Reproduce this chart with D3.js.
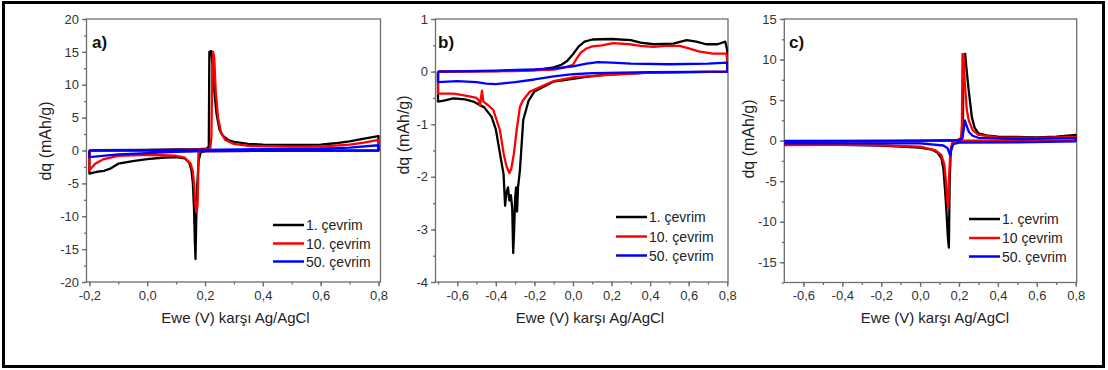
<!DOCTYPE html>
<html>
<head>
<meta charset="utf-8">
<script src="https://cdn.jsdelivr.net/npm/d3@7"></script>
<style>
  body { margin: 0; background: #fff; }
  text { font-family: "Liberation Sans", Arial, sans-serif; }
  .axis path, .axis line { stroke: #6e6e6e; stroke-width: 1.3; }
  .axis text { fill: #333; font-size: 13px; }
</style>
</head>
<body>
<svg id="chart" width="1108" height="370"></svg>
<script>
// ---- data (x = Ewe in V, y = dq in mAh/g) ----
const aCycle1 = [[-0.2,0.05],[0.0,0.1],[0.1,0.15],[0.18,0.2],[0.205,0.3],[0.213,0.6],[0.215,15],[0.222,15.1],[0.224,14],[0.23,10],[0.24,5.5],[0.25,3.2],[0.26,2.3],[0.28,1.6],[0.3,1.3],[0.35,1.0],[0.4,0.9],[0.5,0.85],[0.6,0.9],[0.65,1.1],[0.7,1.4],[0.75,1.8],[0.8,2.2],[0.8,0.0],[0.6,-0.05],[0.4,-0.05],[0.2,-0.1],[0.185,-0.3],[0.178,-1.5],[0.172,-6],[0.169,-12],[0.167,-16.5],[0.165,-14],[0.162,-9],[0.158,-5],[0.153,-3],[0.145,-1.8],[0.13,-1.2],[0.1,-1.0],[0.05,-1.1],[0.0,-1.3],[-0.05,-1.6],[-0.1,-2.0],[-0.13,-2.8],[-0.15,-3.1],[-0.17,-3.2],[-0.19,-3.4],[-0.2,-3.5],[-0.2,0.05]];
const aCycle10 = [[-0.2,0.0],[0.1,0.1],[0.2,0.15],[0.218,0.3],[0.222,2],[0.225,12],[0.228,15],[0.232,14],[0.237,9],[0.245,5],[0.255,2.8],[0.27,1.6],[0.3,1.0],[0.35,0.7],[0.5,0.6],[0.6,0.6],[0.7,0.9],[0.75,1.2],[0.8,1.6],[0.8,0.0],[0.5,-0.05],[0.2,-0.1],[0.18,-0.2],[0.177,-0.5],[0.176,-5],[0.174,-8.5],[0.17,-9.4],[0.166,-8],[0.162,-5],[0.157,-3],[0.15,-2],[0.13,-1.1],[0.1,-0.8],[0.0,-0.65],[-0.1,-0.8],[-0.15,-1.3],[-0.18,-2.0],[-0.2,-3.0],[-0.2,0.0]];
const aCycle50 = [[-0.2,0.0],[0.2,0.1],[0.4,0.2],[0.6,0.3],[0.7,0.45],[0.8,0.8],[0.8,0.0],[0.6,-0.02],[0.4,-0.05],[0.2,-0.1],[0.1,-0.2],[0.0,-0.4],[-0.1,-0.6],[-0.2,-1.0],[-0.2,0.0]];

const bCycle1 = [[-0.7,0.0],[-0.4,0.01],[-0.2,0.03],[-0.15,0.05],[-0.1,0.08],[-0.06,0.13],[-0.03,0.2],[0.0,0.33],[0.03,0.48],[0.06,0.57],[0.1,0.61],[0.2,0.62],[0.3,0.6],[0.35,0.55],[0.42,0.52],[0.52,0.53],[0.59,0.6],[0.64,0.57],[0.69,0.52],[0.75,0.52],[0.79,0.57],[0.8,0.4],[0.8,0.0],[0.4,-0.02],[0.2,-0.05],[0.07,-0.1],[-0.1,-0.19],[-0.2,-0.38],[-0.23,-0.55],[-0.258,-0.92],[-0.275,-1.87],[-0.285,-2.2],[-0.29,-2.66],[-0.295,-2.2],[-0.3,-2.4],[-0.305,-3.0],[-0.31,-3.45],[-0.315,-2.6],[-0.322,-2.35],[-0.33,-2.45],[-0.337,-2.2],[-0.345,-2.3],[-0.352,-2.55],[-0.36,-1.95],[-0.379,-1.55],[-0.4,-1.1],[-0.422,-0.86],[-0.46,-0.68],[-0.517,-0.57],[-0.56,-0.53],[-0.62,-0.51],[-0.67,-0.55],[-0.7,-0.57],[-0.7,0.0]];
const bCycle10 = [[-0.7,0.0],[-0.3,0.01],[-0.1,0.04],[-0.05,0.07],[0.0,0.13],[0.02,0.25],[0.04,0.36],[0.07,0.44],[0.1,0.48],[0.15,0.5],[0.208,0.54],[0.295,0.52],[0.35,0.49],[0.416,0.47],[0.48,0.49],[0.554,0.49],[0.6,0.44],[0.658,0.38],[0.727,0.34],[0.796,0.34],[0.8,0.2],[0.8,0.0],[0.4,-0.02],[0.1,-0.08],[0.0,-0.11],[-0.1,-0.18],[-0.223,-0.38],[-0.26,-0.55],[-0.275,-0.67],[-0.292,-1.11],[-0.306,-1.55],[-0.32,-1.85],[-0.33,-1.93],[-0.345,-1.8],[-0.36,-1.55],[-0.379,-1.11],[-0.413,-0.73],[-0.44,-0.64],[-0.465,-0.57],[-0.472,-0.36],[-0.477,-0.5],[-0.482,-0.65],[-0.488,-0.55],[-0.5,-0.5],[-0.55,-0.46],[-0.62,-0.42],[-0.7,-0.42],[-0.7,0.0]];
const bCycle50 = [[-0.7,0.0],[-0.4,0.02],[-0.2,0.04],[-0.1,0.06],[0.0,0.1],[0.07,0.15],[0.13,0.18],[0.2,0.17],[0.3,0.15],[0.5,0.14],[0.7,0.15],[0.8,0.17],[0.8,0.0],[0.4,-0.01],[0.1,-0.03],[0.0,-0.05],[-0.1,-0.09],[-0.2,-0.15],[-0.3,-0.2],[-0.4,-0.24],[-0.45,-0.23],[-0.5,-0.2],[-0.6,-0.18],[-0.7,-0.2],[-0.7,0.0]];

const cCycle1 = [[-0.7,-0.15],[-0.3,-0.1],[0.0,-0.05],[0.15,0.0],[0.2,0.1],[0.215,0.3],[0.22,1.5],[0.223,10.5],[0.232,10.7],[0.238,9],[0.248,6.6],[0.266,2.9],[0.28,1.6],[0.3,0.9],[0.35,0.6],[0.4,0.5],[0.6,0.4],[0.7,0.5],[0.8,0.7],[0.8,0.0],[0.5,-0.02],[0.2,-0.05],[0.17,-0.2],[0.158,-1],[0.152,-5],[0.148,-13.2],[0.143,-12],[0.135,-8.5],[0.128,-6],[0.12,-3.5],[0.11,-2.2],[0.09,-1.5],[0.06,-1.1],[0.0,-0.85],[-0.2,-0.6],[-0.5,-0.5],[-0.7,-0.5],[-0.7,-0.15]];
const cCycle10 = [[-0.7,-0.1],[0.0,-0.05],[0.19,0.05],[0.21,0.3],[0.215,2],[0.218,10.7],[0.224,10.5],[0.23,7],[0.24,3.8],[0.25,2.5],[0.27,1.3],[0.3,0.7],[0.4,0.4],[0.6,0.35],[0.8,0.45],[0.8,0.0],[0.5,-0.02],[0.2,-0.05],[0.165,-0.3],[0.155,-1.5],[0.15,-4],[0.145,-8.4],[0.14,-7.5],[0.133,-5],[0.125,-3],[0.11,-1.8],[0.08,-1.2],[0.0,-0.75],[-0.3,-0.5],[-0.7,-0.55],[-0.7,-0.1]];
const cCycle50 = [[-0.7,-0.05],[0.0,0.0],[0.2,0.05],[0.218,0.3],[0.225,1.5],[0.23,2.5],[0.24,1.8],[0.25,1.1],[0.27,0.6],[0.3,0.35],[0.5,0.2],[0.8,0.3],[0.8,-0.1],[0.5,-0.2],[0.2,-0.25],[0.17,-0.45],[0.16,-1.2],[0.155,-1.85],[0.15,-1.5],[0.14,-0.9],[0.12,-0.6],[0.0,-0.35],[-0.7,-0.35],[-0.7,-0.05]];

const aXTicks = [-0.2, 0, 0.2, 0.4, 0.6, 0.8];
const aYTicks = [-20, -15, -10, -5, 0, 5, 10, 15, 20];
const bXTicks = [-0.6, -0.4, -0.2, 0, 0.2, 0.4, 0.6, 0.8];
const bYTicks = [-4, -3, -2, -1, 0, 1];
const cXTicks = [-0.6, -0.4, -0.2, 0, 0.2, 0.4, 0.6, 0.8];
const cYTicks = [-15, -10, -5, 0, 5, 10, 15];

const legendAB = ["1. çevrim", "10. çevrim", "50. çevrim"];
const legendC = ["1. çevrim", "10 çevrim", "50. çevrim"];
const seriesColors = ["#000000", "#ff0000", "#0000ff"];

const xTitle = "Ewe (V) karşı Ag/AgCl";
const yTitle = "dq (mAh/g)";

const svg = d3.select("#chart");

// outer frame
svg.append("rect")
  .attr("x", 3.5).attr("y", 2.5)
  .attr("width", 1100).attr("height", 364)
  .attr("fill", "#fff")
  .attr("stroke", "#000").attr("stroke-width", 3);

let fmtX = v => d3.format(".1f")(v).replace(".", ",").replace("\u2212", "-");
let fmtY = v => String(v);

let drawPanel = (p) => {
  let x = d3.scaleLinear().domain(p.xDomain).range([p.left, p.right]);
  let y = d3.scaleLinear().domain(p.yDomain).range([p.bottom, p.top]);

  let g = svg.append("g");

  g.append("clipPath").attr("id", "clip-" + p.id)
    .append("rect")
    .attr("x", p.left).attr("y", p.top)
    .attr("width", p.right - p.left).attr("height", p.bottom - p.top);

  // minor ticks
  g.append("g").attr("class", "axis")
    .attr("transform", "translate(0," + p.bottom + ")")
    .call(d3.axisBottom(x).tickValues(p.xMinor).tickSize(2.5).tickSizeOuter(0).tickFormat(""))
    .select(".domain").remove();
  g.append("g").attr("class", "axis")
    .attr("transform", "translate(" + p.left + ",0)")
    .call(d3.axisLeft(y).tickValues(p.yMinor).tickSize(2.5).tickSizeOuter(0).tickFormat(""))
    .select(".domain").remove();

  // major ticks
  let xa = g.append("g").attr("class", "axis")
    .attr("transform", "translate(0," + p.bottom + ")")
    .call(d3.axisBottom(x).tickValues(p.xTicks).tickSize(4.5).tickSizeOuter(0).tickPadding(4).tickFormat(fmtX));
  xa.select(".domain").remove();
  let ya = g.append("g").attr("class", "axis")
    .attr("transform", "translate(" + p.left + ",0)")
    .call(d3.axisLeft(y).tickValues(p.yTicks).tickSize(4.5).tickSizeOuter(0).tickPadding(3).tickFormat(fmtY));
  ya.select(".domain").remove();

  // plot frame
  g.append("rect")
    .attr("x", p.left).attr("y", p.top)
    .attr("width", p.right - p.left).attr("height", p.bottom - p.top)
    .attr("fill", "none").attr("stroke", "#6e6e6e").attr("stroke-width", 1.3);

  let line = d3.line().x(d => x(d[0])).y(d => y(d[1]));

  g.append("g").attr("clip-path", "url(#clip-" + p.id + ")")
    .selectAll("path")
    .data(p.series)
    .enter().append("path")
    .attr("d", d => line(d))
    .attr("fill", "none")
    .attr("stroke", (d, i) => seriesColors[i])
    .attr("stroke-width", 2.3)
    .attr("stroke-linejoin", "round");

  // panel letter
  g.append("text")
    .attr("x", p.letterX).attr("y", 48)
    .attr("font-size", "17px").attr("font-weight", "bold")
    .attr("fill", "#111")
    .text(p.letter);

  // legend
  let lg = g.append("g");
  p.legend.forEach((name, i) => {
    let ly = p.legendY[i];
    lg.append("line")
      .attr("x1", p.legendX).attr("x2", p.legendX + 31)
      .attr("y1", ly).attr("y2", ly)
      .attr("stroke", seriesColors[i]).attr("stroke-width", 2.5);
    lg.append("text")
      .attr("x", p.legendX + 33).attr("y", ly + 5)
      .attr("font-size", "14px").attr("fill", "#222")
      .text(name);
  });

  // axis titles
  g.append("text")
    .attr("x", p.xTitleX).attr("y", 323)
    .attr("text-anchor", "middle")
    .attr("font-size", "15px").attr("fill", "#222")
    .text(xTitle);
  g.append("text")
    .attr("transform", "translate(" + (p.yTitleX) + "," + p.yTitleY + ") rotate(-90)")
    .attr("text-anchor", "middle")
    .attr("font-size", "16px").attr("fill", "#222")
    .text(yTitle);
};

let range = (a, b, s) => d3.range(Math.round(a / s), Math.round(b / s) + 1).map(k => +(k * s).toFixed(3));

drawPanel({
  id: "a", letter: "a)", letterX: 92,
  left: 86.5, right: 380.5, top: 19, bottom: 282,
  xDomain: [-0.21, 0.807], yDomain: [-20, 20],
  xTicks: aXTicks, yTicks: aYTicks,
  xMinor: range(-0.2, 0.8, 0.1), yMinor: range(-20, 20, 2.5),
  series: [aCycle1, aCycle10, aCycle50],
  legend: legendAB, legendX: 273, legendY: [225, 243.5, 261.5],
  xTitleX: 235.5, yTitleX: 51, yTitleY: 141
});

drawPanel({
  id: "b", letter: "b)", letterX: 438,
  left: 435.5, right: 728, top: 19, bottom: 282,
  xDomain: [-0.713, 0.804], yDomain: [-4, 1],
  xTicks: bXTicks, yTicks: bYTicks,
  xMinor: range(-0.7, 0.8, 0.1), yMinor: range(-4, 1, 0.5),
  series: [bCycle1, bCycle10, bCycle50],
  legend: legendAB, legendX: 616, legendY: [217, 236.5, 255.5],
  xTitleX: 590, yTitleX: 409, yTitleY: 135
});

drawPanel({
  id: "c", letter: "c)", letterX: 789,
  left: 784.3, right: 1076.7, top: 19, bottom: 282.5,
  xDomain: [-0.698, 0.805], yDomain: [-17.5, 15],
  xTicks: cXTicks, yTicks: cYTicks,
  xMinor: range(-0.6, 0.8, 0.1), yMinor: range(-17.5, 15, 2.5),
  series: [cCycle1, cCycle10, cCycle50],
  legend: legendC, legendX: 969, legendY: [219, 238, 256.5],
  xTitleX: 935, yTitleX: 754, yTitleY: 139
});
</script>
</body>
</html>
